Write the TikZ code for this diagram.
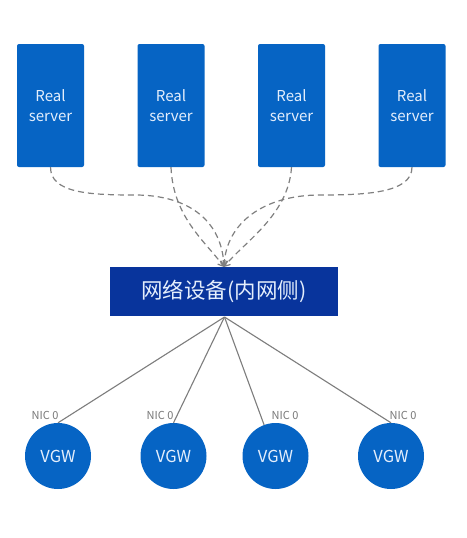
\documentclass[tikz,border=0pt]{standalone}
\usepackage{fontspec}
\setmainfont{Noto Sans CJK SC}
\usetikzlibrary{arrows.meta}
\definecolor{srvblue}{RGB}{6,100,196}
\definecolor{netblue}{RGB}{8,52,156}
\definecolor{txtlight}{RGB}{228,238,252}
\definecolor{dashgray}{RGB}{128,128,128}
\definecolor{linegray}{RGB}{125,125,125}
\definecolor{nicgray}{RGB}{120,120,120}
\tikzset{
  server/.style={fill=srvblue, rounded corners=2pt, minimum width=67pt, minimum height=123pt,
    inner sep=0pt, text=txtlight, align=center, font=\fontsize{15}{20.5}\selectfont},
  netbox/.style={fill=netblue, minimum width=228pt, minimum height=49pt, inner sep=0pt,
    text=txtlight, font=\fontsize{21.5}{24}\selectfont},
  vgw/.style={circle, fill=srvblue, minimum size=66pt, inner sep=0pt, text=txtlight,
    font=\fontsize{16.5}{18}\selectfont},
  nic/.style={text=nicgray, inner sep=0pt, font=\fontsize{11}{12}\selectfont},
  flow/.style={draw=dashgray, line width=1.2pt, dash pattern=on 6pt off 4pt,
    -{Straight Barb[length=5pt,width=7pt]}},
  link/.style={draw=linegray, line width=1.1pt}
}
\begin{document}
\begin{tikzpicture}[x=1pt,y=-1pt]
\useasboundingbox[fill=white] (0,0) rectangle (466,538);

\node[server] (s1) at (50.5,105.5) {Real\\server};
\node[server] (s2) at (171,105.5) {Real\\server};
\node[server] (s3) at (291.5,105.5) {Real\\server};
\node[server] (s4) at (412,105.5) {Real\\server};

\node[netbox] (net) at (224,291.5) {网络设备(内网侧)};

\node[vgw] (v1) at (58,456) {VGW};
\node[vgw] (v2) at (173.5,456) {VGW};
\node[vgw] (v3) at (275.5,456) {VGW};
\node[vgw] (v4) at (391,456) {VGW};

\coordinate (c1) at (135,195);
\coordinate (c4) at (320,195);
\coordinate (tip) at (224,267);

\draw[flow] (s1.south) .. controls +(0,26) and +(-45,0) .. (c1)
  .. controls +(55,0) and +(-2,-45) .. (tip);
\draw[flow] (s2.south) .. controls +(2,50) and +(-18,-25) .. (tip);
\draw[flow] (s3.south) .. controls +(-3,48) and +(20,-25) .. (tip);
\draw[flow] (s4.south) .. controls +(0,26) and +(45,0) .. (c4)
  .. controls +(-55,0) and +(2,-45) .. (tip);

\coordinate (hub) at (224.5,317);
\draw[link] (hub) -- (v1.north);
\draw[link] (hub) -- (v2.north);
\draw[link] (hub) -- (v3);
\draw[link] (hub) -- (v4.north);

\node[nic] (n1) at (45,415) {NIC 0};
\node[nic] (n2) at (160,415) {NIC 0};
\node[nic] (n3) at (285,415) {NIC 0};
\node[nic] (n4) at (403,415) {NIC 0};
\end{tikzpicture}
\end{document}
